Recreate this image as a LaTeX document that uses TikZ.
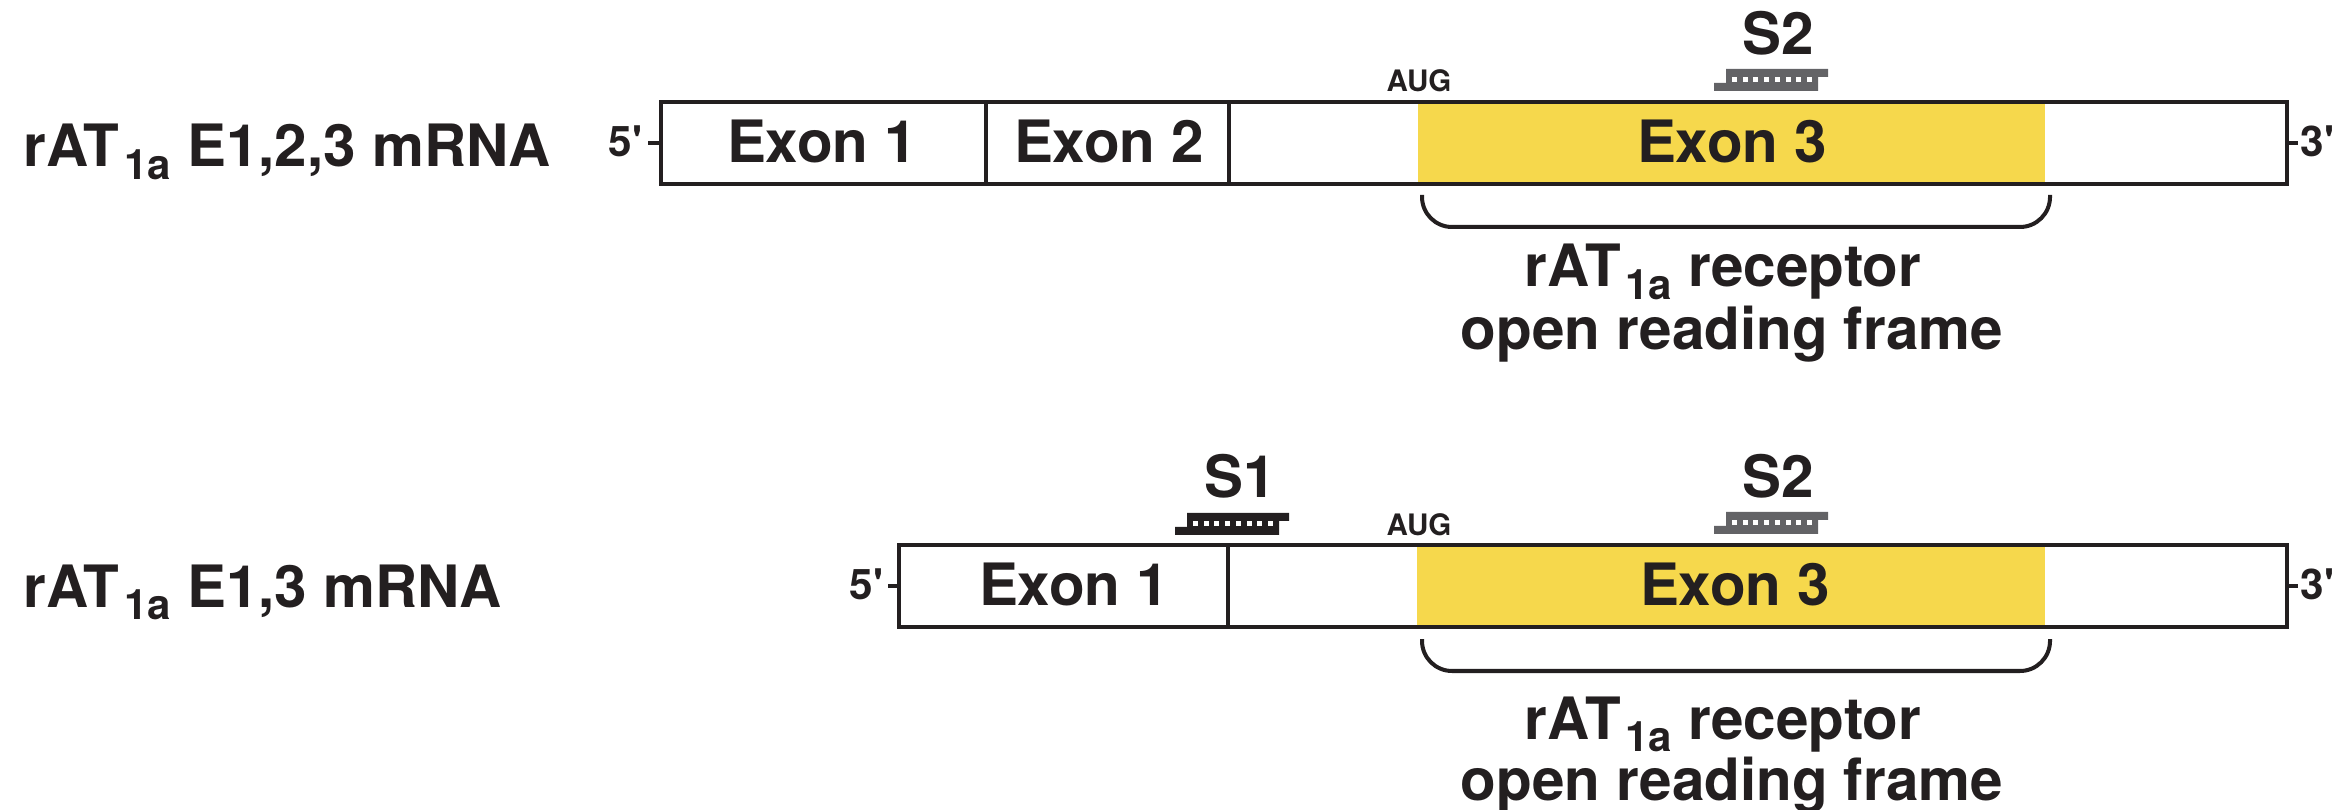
\documentclass[tikz,border=0pt]{standalone}
\usepackage{fontspec}
\setmainfont{TeX Gyre Heros}
\definecolor{ink}{HTML}{231F20}
\definecolor{orfyellow}{HTML}{F6D84C}
\definecolor{probegrey}{HTML}{636366}
\newcommand\subx[1]{\kern0.08em\raisebox{-0.21em}{\scalebox{0.72}{#1}}}
\newcommand\prb[3]{%
  \begin{scope}[shift={(#1,#2)}]
    \fill[#3] (-45,-11) -- (57,-11) -- (57,-3) -- (47,-3) -- (47,11) -- (-57,11) -- (-57,3) -- (-45,3) -- cycle;
    \foreach \k in {0,...,7} \fill[white] ({-39+10.7*\k},-2.5) rectangle ++(5,5);
  \end{scope}}
\tikzset{
  big/.style={font=\fontsize{16.6}{19}\selectfont\bfseries, text=ink, inner sep=0pt},
  aug/.style={font=\fontsize{8.4}{10}\selectfont\bfseries, text=ink, inner sep=0pt},
  endl/.style={font=\fontsize{12}{14}\selectfont\bfseries, text=ink, inner sep=0pt},
  rna/.style={draw=ink, line width=1.14pt},
  brk/.style={draw=ink, line width=1.14pt, rounded corners=0.3cm},
}
\begin{document}
\begin{tikzpicture}[x=0.01cm, y=-0.01cm]
\useasboundingbox (0,0) rectangle (2349,810);
% ---------- Row 1 ----------
\node[big, anchor=base west] (lab1) at (23,167) {rAT\subx{1a} E1,2,3 mRNA};
\fill[orfyellow] (1418,102) rectangle (2045,184);
\draw[rna] (661,102) rectangle (2287,184);
\draw[rna] (986,102) -- (986,184);
\draw[rna] (1229,102) -- (1229,184);
\coordinate (l1) at (661,143);
\coordinate (r1) at (2287,143);
\node[endl, anchor=base east] (five1) at (643,157) {5\textquotesingle};
\node[endl, anchor=base west] (three1) at (2300,157) {3\textquotesingle};
\draw[rna] (l1) -- ++(-13,0);
\draw[rna] (r1) -- ++(11,0);
\node[big, anchor=base] (e11) at (822,163) {Exon 1};
\node[big, anchor=base] (e12) at (1109,163) {Exon 2};
\node[big, anchor=base] (e13) at (1732,163) {Exon 3};
\node[aug, anchor=base] (aug1) at (1419,92) {AUG};
\node[big, anchor=base] (s21) at (1778,55) {S2};
\prb{1771}{80}{probegrey}
\draw[brk] (1422,195) -- (1422,227) -- (2050,227) -- (2050,195);
\node[big, anchor=base] (orfa1) at (1723,287) {rAT\subx{1a} receptor};
\node[big, anchor=base] (orfb1) at (1732,350) {open reading frame};
% ---------- Row 2 ----------
\node[big, anchor=base west] (lab2) at (23,607) {rAT\subx{1a} E1,3 mRNA};
\fill[orfyellow] (1417,545) rectangle (2045,627);
\draw[rna] (899,545) rectangle (2287,627);
\draw[rna] (1228,545) -- (1228,627);
\coordinate (l2) at (899,586);
\coordinate (r2) at (2287,586);
\node[endl, anchor=base east] (five2) at (884,600) {5\textquotesingle};
\node[endl, anchor=base west] (three2) at (2300,600) {3\textquotesingle};
\draw[rna] (l2) -- ++(-11,0);
\draw[rna] (r2) -- ++(11,0);
\node[big, anchor=base] (e21) at (1074,606) {Exon 1};
\node[big, anchor=base] (e23) at (1735,606) {Exon 3};
\node[aug, anchor=base] (aug2) at (1419,536) {AUG};
\node[big, anchor=base] (s12) at (1240,498) {S1};
\prb{1232}{524}{ink}
\node[big, anchor=base] (s22) at (1778,498) {S2};
\prb{1771}{523}{probegrey}
\draw[brk] (1422,639) -- (1422,671) -- (2050,671) -- (2050,639);
\node[big, anchor=base] (orfa2) at (1723,739) {rAT\subx{1a} receptor};
\node[big, anchor=base] (orfb2) at (1732,800) {open reading frame};
\end{tikzpicture}
\end{document}
